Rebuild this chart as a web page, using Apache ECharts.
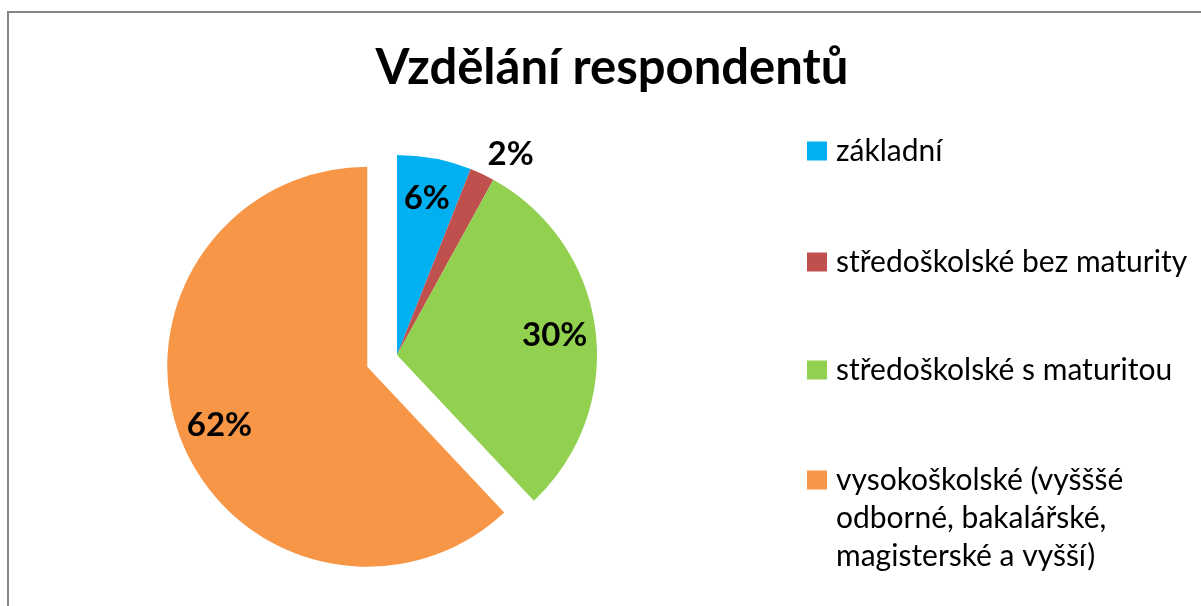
<!DOCTYPE html>
<html>
<head>
<meta charset="utf-8">
<script src="https://cdn.jsdelivr.net/npm/echarts@6/dist/echarts.min.js"></script>
<style>
  html, body { margin: 0; padding: 0; background: #fff; }
  #wrap { position: relative; width: 1201px; height: 606px; overflow: hidden; }
  #chart { position: absolute; left: 0; top: 0; width: 1201px; height: 606px; }
  #frame { position: absolute; left: 7px; top: 11px; width: 1300px; height: 700px;
           border-left: 2px solid #868686; border-top: 2px solid #868686; pointer-events: none; }
</style>
</head>
<body>
<div id="wrap">
  <div id="chart"></div>
  <div id="frame"></div>
</div>
<script>
const titleText = 'Vzdělání respondentů';
const categories = [
  'základní',
  'středoškolské bez maturity',
  'středoškolské s maturitou',
  'vysokoškolské (vyšššé\nodborné, bakalářské,\nmagisterské a vyšší)'
];
const values = [6, 2, 30, 62];
const colors = ['#00B0F0', '#C0504D', '#92D050', '#F79646'];
const explodedIndex = 3;
const outsideLabelIndex = 1;

const center = [397, 355];
const R = 200;
const font = 'Lato, "Open Sans", "Noto Sans", sans-serif';

const pieData = categories.map((name, i) => ({
  name: name,
  value: values[i],
  selected: i === explodedIndex,
  itemStyle: { color: colors[i] }
}));

const labelData = categories.map((name, i) => ({
  name: name,
  value: values[i],
  selected: i === explodedIndex,
  itemStyle: { color: 'rgba(0,0,0,0)' },
  label: i === outsideLabelIndex
    ? { position: 'outside', distanceToLabelLine: -4 }
    : { position: 'inside' },
  labelLine: { show: false, length: 22, length2: 0 }
}));

const legendTops = [132, 243, 351, 385];
const legends = categories.map((name, i) => ({
  show: true,
  orient: 'vertical',
  left: 807,
  top: legendTops[i],
  padding: 0,
  itemWidth: 20,
  itemHeight: 19,
  icon: 'rect',
  selectedMode: false,
  data: [name],
  // multi-line entry: two empty lines first so the icon sits on the first text line
  formatter: n => {
    const lines = n.split('\n').map(s => '{t|' + s + '}').join('\n');
    return i === 3 ? '{e| }\n{e| }\n' + lines : lines;
  },
  textStyle: {
    fontFamily: font,
    fontSize: 30,
    color: '#000',
    lineHeight: 38,
    rich: {
      t: { fontFamily: font, fontSize: 30, color: '#000', lineHeight: 38, padding: [0, 0, 0, 4] },
      e: { fontFamily: font, fontSize: 30, color: '#000', lineHeight: 38 }
    }
  }
}));

const chart = echarts.init(document.getElementById('chart'), null, { renderer: 'canvas' });
chart.setOption({
  backgroundColor: '#fff',
  animation: false,
  title: {
    text: titleText,
    left: 607,
    top: 39,
    textAlign: 'center',
    textStyle: { fontFamily: font, fontSize: 49, fontWeight: 'bold', color: '#000' }
  },
  legend: legends,
  series: [
    {
      type: 'pie',
      center: center,
      radius: [0, R],
      startAngle: 90,
      clockwise: true,
      selectedMode: 'single',
      selectedOffset: 32,
      silent: true,
      avoidLabelOverlap: false,
      label: { show: false },
      labelLine: { show: false },
      emphasis: { disabled: true },
      data: pieData
    },
    {
      type: 'pie',
      center: center,
      radius: [R * 0.56, R],
      startAngle: 90,
      clockwise: true,
      selectedMode: 'single',
      selectedOffset: 32,
      silent: true,
      avoidLabelOverlap: false,
      emphasis: { disabled: true },
      label: {
        show: true,
        formatter: '{c}%',
        fontFamily: font,
        fontSize: 33,
        fontWeight: 'bold',
        color: '#000'
      },
      data: labelData
    }
  ]
});
</script>
</body>
</html>
